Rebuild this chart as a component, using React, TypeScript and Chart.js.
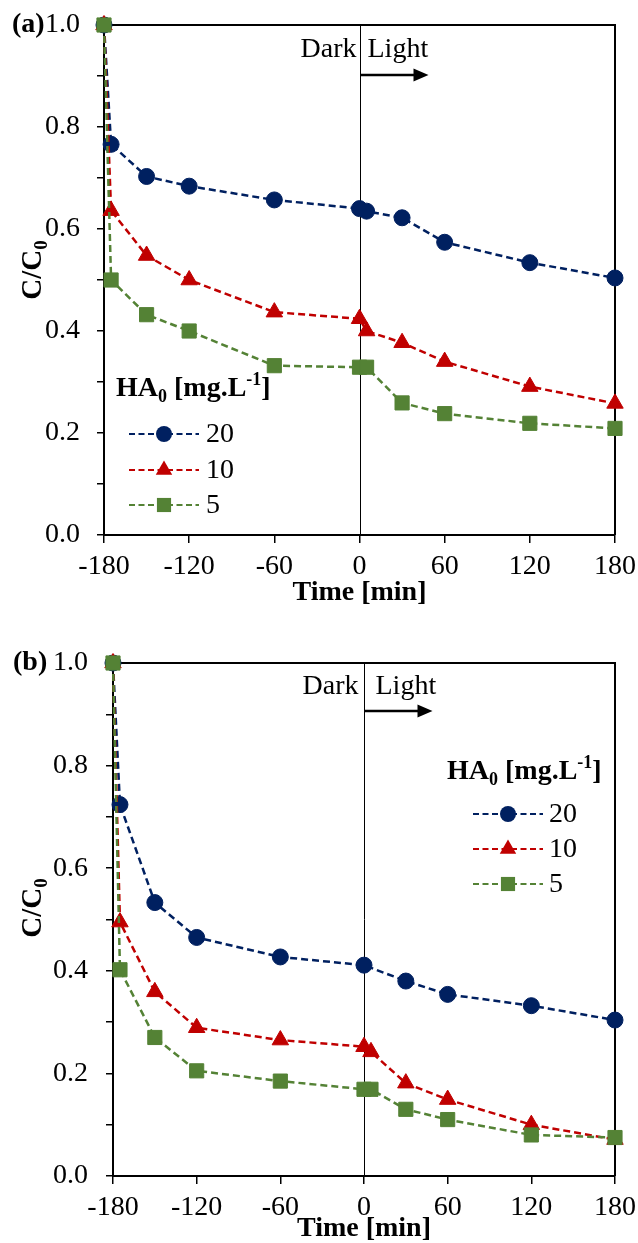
import React, { useEffect, useRef } from 'react';
import { Chart, registerables } from 'chart.js';

Chart.register(...registerables);

const FONT = '"Liberation Serif", "Times New Roman", serif';
const BLUE = '#002060';
const RED = '#C00000';
const GREEN = '#548235';

// ---------- data: panel (a) ----------
const timeA = [-180, -175, -150, -120, -60, 0, 5, 30, 60, 120, 180];
const a20 = [1.0, 0.766, 0.703, 0.684, 0.657, 0.640, 0.635, 0.622, 0.574, 0.534, 0.504];
const a10 = [1.0, 0.636, 0.548, 0.500, 0.437, 0.424, 0.400, 0.377, 0.340, 0.291, 0.258];
const a5 = [1.0, 0.500, 0.432, 0.400, 0.332, 0.329, 0.329, 0.259, 0.238, 0.219, 0.209];

// ---------- data: panel (b) ----------
const timeB20 = [-180, -175, -150, -120, -60, 0, 30, 60, 120, 180];
const b20 = [1.0, 0.724, 0.533, 0.465, 0.427, 0.411, 0.380, 0.354, 0.332, 0.304];
const timeB = [-180, -175, -150, -120, -60, 0, 5, 30, 60, 120, 180];
const b10 = [1.0, 0.495, 0.359, 0.289, 0.265, 0.252, 0.242, 0.181, 0.149, 0.100, 0.071];
const b5 = [1.0, 0.402, 0.270, 0.205, 0.185, 0.169, 0.169, 0.130, 0.110, 0.080, 0.075];

// ---------- labels ----------
const seriesLabels = ['20', '10', '5'];
const xTickValues = [-180, -120, -60, 0, 60, 120, 180];
const xTitle = 'Time [min]';

const pts = (xs: number[], ys: number[]) => xs.map((x, i) => ({ x, y: ys[i] }));

type Spec = {
  label: string;
  top: number;
  height: number;
  area: { left: number; top: number; right: number; bottom: number };
  yTickPad: number;
  xTitlePad: number;
  yTitle: { x: number; y: number };
  dark: { gapD: number; gapL: number; textDy: number; arrowDy: number };
  legend: { titleX: number; titleBase: number; lineX1: number; lineX2: number; textX: number; ys: number[] };
  panelLabel: { x: number; y: number };
  series: { t: number[]; v: number[] }[];
};

const STYLES = [
  { color: BLUE, shape: 'circle', radius: 8 },
  { color: RED, shape: 'triangle', radius: 9.5 },
  { color: GREEN, shape: 'rect', radius: 10 },
];

function drawMarker(ctx: CanvasRenderingContext2D, shape: string, x: number, y: number, r: number, color: string) {
  ctx.fillStyle = color;
  ctx.beginPath();
  if (shape === 'circle') {
    ctx.arc(x, y, r, 0, Math.PI * 2);
  } else if (shape === 'triangle') {
    ctx.moveTo(x, y - r);
    ctx.lineTo(x + r * 0.866, y + r * 0.5);
    ctx.lineTo(x - r * 0.866, y + r * 0.5);
    ctx.closePath();
  } else {
    const s = r * Math.SQRT1_2;
    ctx.rect(x - s, y - s, 2 * s, 2 * s);
  }
  ctx.fill();
}

type Part = { t: string; size: number; bold: boolean; dy: number };
function measureParts(ctx: CanvasRenderingContext2D, parts: Part[]) {
  let w = 0;
  for (const p of parts) {
    ctx.font = `${p.bold ? 'bold ' : ''}${p.size}px ${FONT}`;
    w += ctx.measureText(p.t).width;
  }
  return w;
}
function drawParts(ctx: CanvasRenderingContext2D, parts: Part[], x: number, y: number) {
  let cx = x;
  ctx.textAlign = 'left';
  ctx.textBaseline = 'alphabetic';
  for (const p of parts) {
    ctx.font = `${p.bold ? 'bold ' : ''}${p.size}px ${FONT}`;
    ctx.fillText(p.t, cx, y + p.dy);
    cx += ctx.measureText(p.t).width;
  }
}

const decorPlugin = {
  id: 'decor',
  beforeDatasetsDraw(chart: any, _args: any, o: any) {
    const spec: Spec = o.spec;
    const { ctx, chartArea: a, scales } = chart;
    ctx.save();
    ctx.strokeStyle = '#000';
    ctx.lineWidth = 2;
    ctx.beginPath();
    ctx.moveTo(a.left, a.top);
    ctx.lineTo(a.right, a.top);
    ctx.lineTo(a.right, a.bottom);
    ctx.stroke();
    const x0 = Math.round(scales.x.getPixelForValue(0)) + 0.5;
    ctx.lineWidth = 1;
    ctx.beginPath();
    ctx.moveTo(x0, a.top);
    ctx.lineTo(x0, a.bottom);
    ctx.stroke();
    // Dark / Light
    ctx.fillStyle = '#000';
    ctx.font = `28px ${FONT}`;
    ctx.textBaseline = 'alphabetic';
    ctx.textAlign = 'right';
    ctx.fillText('Dark', x0 - spec.dark.gapD, a.top + spec.dark.textDy);
    ctx.textAlign = 'left';
    ctx.fillText('Light', x0 + spec.dark.gapL, a.top + spec.dark.textDy);
    const ay = a.top + spec.dark.arrowDy;
    ctx.lineWidth = 2.5;
    ctx.beginPath();
    ctx.moveTo(x0, ay);
    ctx.lineTo(x0 + 56, ay);
    ctx.stroke();
    ctx.beginPath();
    ctx.moveTo(x0 + 68, ay);
    ctx.lineTo(x0 + 53, ay - 6.5);
    ctx.lineTo(x0 + 53, ay + 6.5);
    ctx.closePath();
    ctx.fill();
    ctx.restore();
  },
  afterDraw(chart: any, _args: any, o: any) {
    const spec: Spec = o.spec;
    const { ctx } = chart;
    ctx.save();
    ctx.fillStyle = '#000';
    // panel label
    ctx.font = `bold 28px ${FONT}`;
    ctx.textAlign = 'left';
    ctx.textBaseline = 'middle';
    ctx.fillText(spec.label, spec.panelLabel.x, spec.panelLabel.y);
    // y title C/C0 rotated
    const yParts: Part[] = [
      { t: 'C/C', size: 29, bold: true, dy: 0 },
      { t: '0', size: 19, bold: true, dy: 6 },
    ];
    const w = measureParts(ctx, yParts);
    ctx.save();
    ctx.translate(spec.yTitle.x, spec.yTitle.y);
    ctx.rotate(-Math.PI / 2);
    drawParts(ctx, yParts, -w / 2, 0);
    ctx.restore();
    // legend
    const L = spec.legend;
    const tParts: Part[] = [
      { t: 'HA', size: 28, bold: true, dy: 0 },
      { t: '0', size: 18, bold: true, dy: 6 },
      { t: ' [mg.L', size: 28, bold: true, dy: 0 },
      { t: '-1', size: 18, bold: true, dy: -11 },
      { t: ']', size: 28, bold: true, dy: 0 },
    ];
    drawParts(ctx, tParts, L.titleX, L.titleBase);
    const mid = (L.lineX1 + L.lineX2) / 2;
    STYLES.forEach((s, i) => {
      const y = L.ys[i];
      ctx.strokeStyle = s.color;
      ctx.lineWidth = 2;
      ctx.setLineDash([6, 3.5]);
      ctx.beginPath();
      ctx.moveTo(L.lineX1, y);
      ctx.lineTo(L.lineX2, y);
      ctx.stroke();
      ctx.setLineDash([]);
      drawMarker(ctx, s.shape, mid, y, s.radius, s.color);
      ctx.fillStyle = '#000';
      ctx.font = `28px ${FONT}`;
      ctx.textAlign = 'left';
      ctx.textBaseline = 'middle';
      ctx.fillText(seriesLabels[i], L.textX, y + 1);
    });
    ctx.restore();
  },
};

function makeConfig(spec: Spec): any {
  const a = spec.area;
  return {
    type: 'line',
    data: {
      datasets: spec.series.map((s, i) => ({
        label: seriesLabels[i],
        data: pts(s.t, s.v),
        borderColor: STYLES[i].color,
        backgroundColor: STYLES[i].color,
        borderWidth: 2.5,
        borderDash: [7, 4],
        pointStyle: STYLES[i].shape,
        pointRadius: STYLES[i].radius,
        pointBorderWidth: 1,
        pointBackgroundColor: STYLES[i].color,
        pointBorderColor: STYLES[i].color,
        tension: 0,
        fill: false,
        clip: false,
        order: 2 - i,
      })),
    },
    options: {
      animation: false,
      responsive: false,
      maintainAspectRatio: false,
      devicePixelRatio: 1,
      layout: { padding: { left: 0, top: a.top, right: 638 - a.right, bottom: 0 } },
      plugins: {
        legend: { display: false },
        tooltip: { enabled: false },
        decor: { spec },
      },
      scales: {
        x: {
          type: 'linear',
          min: -180,
          max: 180,
          afterBuildTicks: (sc: any) => {
            sc.ticks = xTickValues.map((v) => ({ value: v }));
          },
          afterFit: (sc: any) => {
            sc.height = spec.height - a.bottom;
            sc.paddingLeft = 0;
            sc.paddingRight = 0;
            sc.paddingTop = 0;
            sc.paddingBottom = 0;
          },
          ticks: {
            color: '#000',
            font: { family: FONT, size: 28 },
            padding: 7,
            maxRotation: 0,
            autoSkip: false,
            callback: (v: number) => String(v),
          },
          grid: { drawOnChartArea: false, drawTicks: true, tickLength: 8, color: '#000', lineWidth: 1.5 },
          border: { display: true, color: '#000', width: 2 },
          title: {
            display: true,
            text: xTitle,
            color: '#000',
            font: { family: FONT, size: 28, weight: 'bold', lineHeight: 1 },
            padding: { top: 0, bottom: spec.xTitlePad },
          },
        },
        y: {
          type: 'linear',
          min: 0,
          max: 1,
          afterFit: (sc: any) => {
            sc.width = a.left;
            sc.paddingLeft = 0;
            sc.paddingRight = 0;
            sc.paddingTop = 0;
            sc.paddingBottom = 0;
          },
          ticks: {
            stepSize: 0.1,
            color: '#000',
            font: { family: FONT, size: 28 },
            padding: spec.yTickPad,
            autoSkip: false,
            callback: (v: number) => (Math.round(v * 10) % 2 === 0 ? (Math.round(v * 10) / 10).toFixed(1) : ''),
          },
          grid: { drawOnChartArea: false, drawTicks: true, tickLength: 7, color: '#000', lineWidth: 1.5 },
          border: { display: true, color: '#000', width: 2 },
        },
      },
    },
    plugins: [decorPlugin],
  };
}

const specA: Spec = {
  label: '(a)',
  top: 0,
  height: 620,
  area: { left: 104, top: 25, right: 615, bottom: 535 },
  yTickPad: 17,
  xTitlePad: 13,
  yTitle: { x: 41, y: 270 },
  dark: { gapD: 4, gapL: 7, textDy: 32, arrowDy: 50 },
  legend: { titleX: 116, titleBase: 396, lineX1: 129, lineX2: 199, textX: 206, ys: [434, 470, 505] },
  panelLabel: { x: 12, y: 25 },
  series: [
    { t: timeA, v: a20 },
    { t: timeA, v: a10 },
    { t: timeA, v: a5 },
  ],
};

const specB: Spec = {
  label: '(b)',
  top: 620,
  height: 623,
  area: { left: 113, top: 43, right: 615, bottom: 556 },
  yTickPad: 18,
  xTitlePad: 0,
  yTitle: { x: 41, y: 288 },
  dark: { gapD: 6, gapL: 11, textDy: 31, arrowDy: 48 },
  legend: { titleX: 447, titleBase: 159, lineX1: 473, lineX2: 543, textX: 549, ys: [194, 229, 264] },
  panelLabel: { x: 13, y: 43 },
  series: [
    { t: timeB20, v: b20 },
    { t: timeB, v: b10 },
    { t: timeB, v: b5 },
  ],
};

function Panel({ spec }: { spec: Spec }) {
  const ref = useRef<HTMLCanvasElement | null>(null);
  useEffect(() => {
    if (!ref.current) return;
    const chart = new Chart(ref.current, makeConfig(spec));
    return () => chart.destroy();
  }, [spec]);
  return (
    <canvas
      ref={ref}
      width={638}
      height={spec.height}
      style={{ position: 'absolute', left: 0, top: spec.top, width: 638, height: spec.height, display: 'block' }}
    />
  );
}

export default function App() {
  return (
    <div style={{ position: 'absolute', left: 0, top: 0, width: 638, height: 1243, background: '#fff' }}>
      <Panel spec={specA} />
      <Panel spec={specB} />
    </div>
  );
}
